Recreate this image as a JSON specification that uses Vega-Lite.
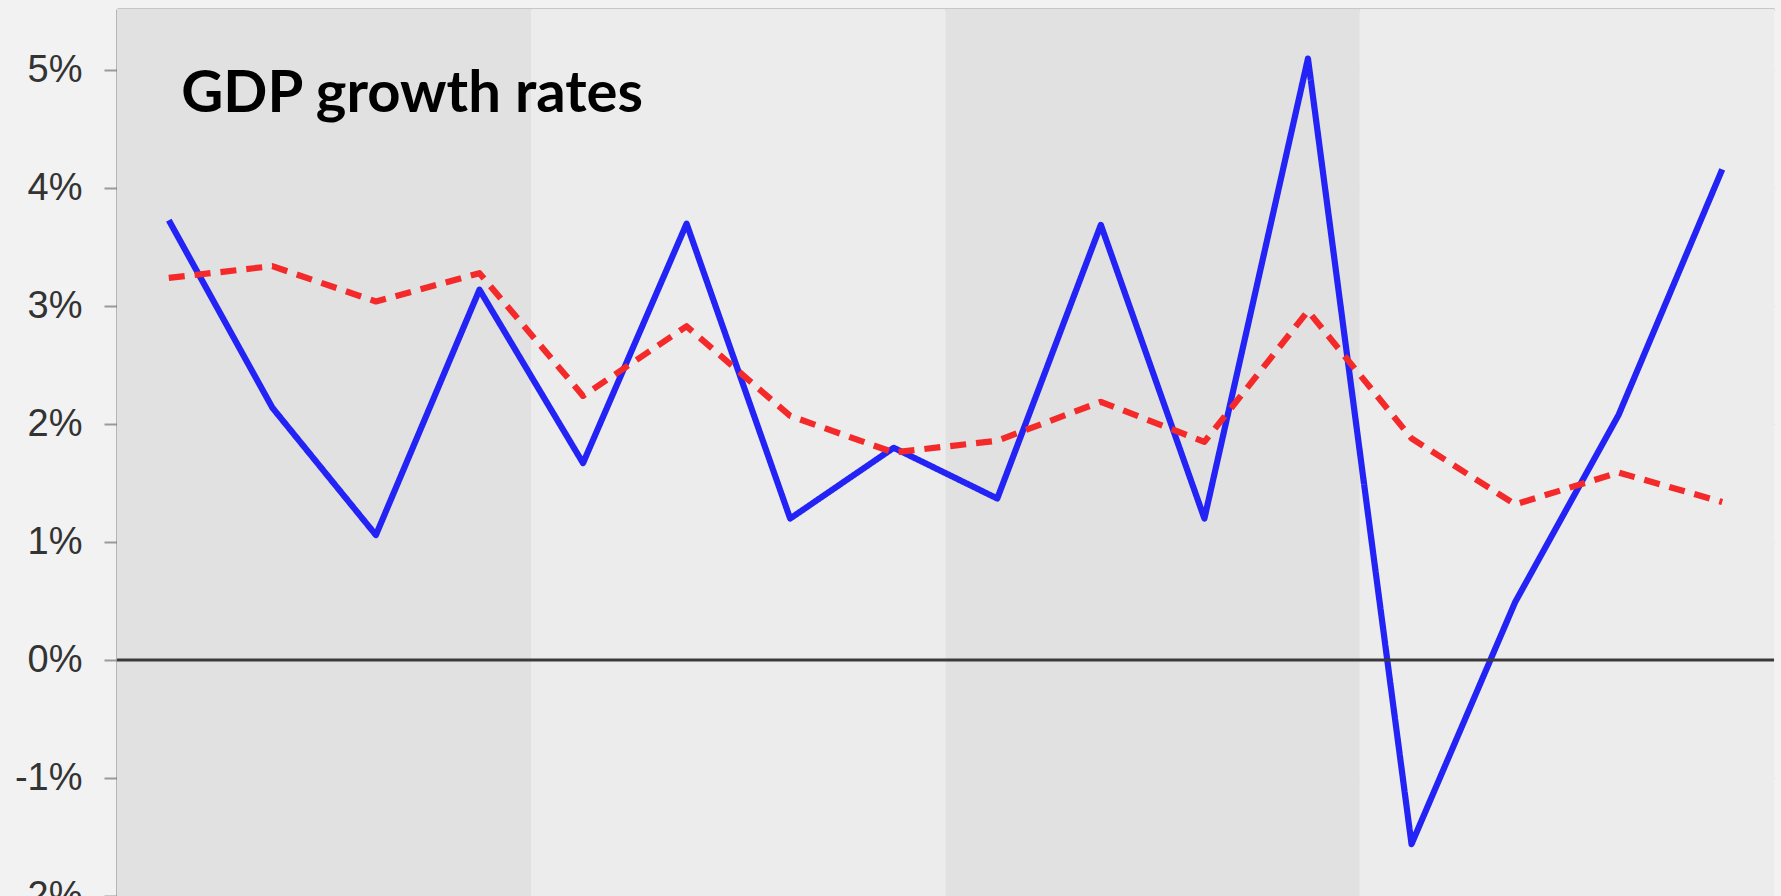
{
  "$schema": "https://vega.github.io/schema/vega-lite/v6.json",
  "autosize": {"type": "none"},
  "width": 1657,
  "height": 887,
  "padding": {"left": 117, "top": 9, "right": 7, "bottom": 0},
  "background": "#f2f2f2",
  "config": {"view": {"stroke": null}},
  "datasets": {
    "bands": [
      {"from": 0.5, "to": 4.5, "shade": "a"},
      {"from": 4.5, "to": 8.5, "shade": "b"},
      {"from": 8.5, "to": 12.5, "shade": "a"},
      {"from": 12.5, "to": 16.5, "shade": "b"}
    ],
    "growth": [
      {"q": 1, "series": "GDP growth", "value": 3.73},
      {"q": 2, "series": "GDP growth", "value": 2.14},
      {"q": 3, "series": "GDP growth", "value": 1.06},
      {"q": 4, "series": "GDP growth", "value": 3.14},
      {"q": 5, "series": "GDP growth", "value": 1.67},
      {"q": 6, "series": "GDP growth", "value": 3.70},
      {"q": 7, "series": "GDP growth", "value": 1.20},
      {"q": 8, "series": "GDP growth", "value": 1.80},
      {"q": 9, "series": "GDP growth", "value": 1.37},
      {"q": 10, "series": "GDP growth", "value": 3.69},
      {"q": 11, "series": "GDP growth", "value": 1.20},
      {"q": 12, "series": "GDP growth", "value": 5.10},
      {"q": 13, "series": "GDP growth", "value": -1.56},
      {"q": 14, "series": "GDP growth", "value": 0.49},
      {"q": 15, "series": "GDP growth", "value": 2.08},
      {"q": 16, "series": "GDP growth", "value": 4.16},
      {"q": 1, "series": "Average", "value": 3.24},
      {"q": 2, "series": "Average", "value": 3.34},
      {"q": 3, "series": "Average", "value": 3.04},
      {"q": 4, "series": "Average", "value": 3.28},
      {"q": 5, "series": "Average", "value": 2.24},
      {"q": 6, "series": "Average", "value": 2.83},
      {"q": 7, "series": "Average", "value": 2.07},
      {"q": 8, "series": "Average", "value": 1.76},
      {"q": 9, "series": "Average", "value": 1.86},
      {"q": 10, "series": "Average", "value": 2.19},
      {"q": 11, "series": "Average", "value": 1.85},
      {"q": 12, "series": "Average", "value": 2.96},
      {"q": 13, "series": "Average", "value": 1.88},
      {"q": 14, "series": "Average", "value": 1.32},
      {"q": 15, "series": "Average", "value": 1.59},
      {"q": 16, "series": "Average", "value": 1.34}
    ],
    "label": [{"text": "GDP growth rates"}]
  },
  "layer": [
    {
      "data": {"name": "bands"},
      "mark": {"type": "rect"},
      "encoding": {
        "x": {"field": "from", "type": "quantitative", "scale": {"domain": [0.5, 16.5], "nice": false, "zero": false},
              "axis": {"orient": "top", "title": null, "labels": false, "ticks": false, "grid": false, "domainColor": "#b8b8b8", "domainWidth": 2.5}},
        "x2": {"field": "to"},
        "color": {"field": "shade", "type": "nominal", "scale": {"domain": ["a", "b"], "range": ["#e1e1e1", "#ececec"]}, "legend": null}
      }
    },
    {
      "data": {"name": "growth"},
      "mark": {"type": "line", "strokeWidth": 6.2, "strokeJoin": "round"},
      "encoding": {
        "x": {"field": "q", "type": "quantitative"},
        "y": {"field": "value", "type": "quantitative",
              "scale": {"domain": [-2, 5.52], "nice": false, "zero": false},
              "axis": {"title": null, "values": [-2, -1, 0, 1, 2, 3, 4, 5], "labelExpr": "datum.value + '%'",
                       "labelFont": "Liberation Sans", "labelFontSize": 38, "labelColor": "#333333",
                       "labelPadding": 22, "tickSize": 13, "tickColor": "#9a9a9a", "tickWidth": 2,
                       "domainColor": "#7a7a7a", "domainWidth": 2,
                       "grid": true, "gridColor": "#cdcdcd", "gridDash": [4, 4], "gridWidth": 1.2}},
        "stroke": {"field": "series", "type": "nominal", "scale": {"domain": ["GDP growth", "Average"], "range": ["#2323f5", "#f42a2a"]}, "legend": null},
        "strokeDash": {"field": "series", "type": "nominal", "scale": {"domain": ["GDP growth", "Average"], "range": [[1, 0], [16, 10]]}, "legend": null}
      }
    },
    {
      "data": {"name": "label"},
      "mark": {"type": "rule", "color": "#3a3a3a", "strokeWidth": 3},
      "encoding": {"y": {"datum": 0}}
    },
    {
      "data": {"name": "label"},
      "mark": {"type": "text", "font": "Lato", "fontWeight": "bold", "fontSize": 58, "color": "#000000", "align": "left", "baseline": "alphabetic"},
      "encoding": {"text": {"field": "text"}, "x": {"datum": 1.12}, "y": {"datum": 4.65}}
    }
  ]
}
